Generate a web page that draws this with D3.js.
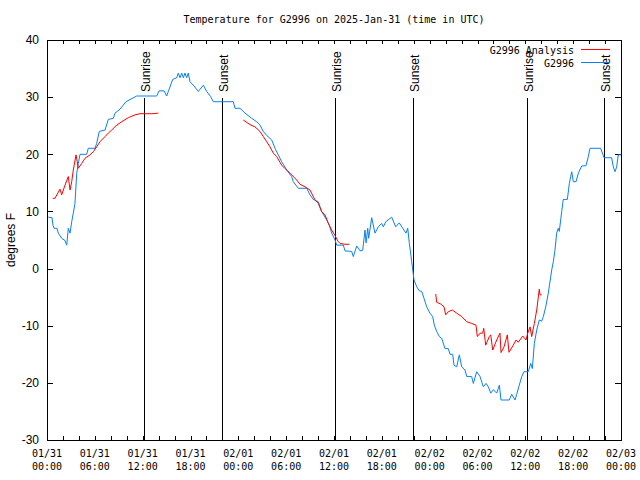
<!DOCTYPE html>
<html><head><meta charset="utf-8">
<script src="https://cdn.jsdelivr.net/npm/d3@7/dist/d3.min.js"></script>
<style>body{margin:0;background:#fff}svg{display:block}</style>
</head><body>
<svg id="c" width="640" height="480"></svg>
<script>
// ---- data (hours since 2025-01-31 00:00 UTC, temperature in degrees F) ----
const titleText = "Temperature for G2996 on 2025-Jan-31 (time in UTC)";
const yLabel = "degrees F";
const seriesNames = ["G2996 Analysis", "G2996"];

const obsHours = [0.16,0.63,0.75,0.88,1.25,1.42,1.84,2.26,2.47,2.67,2.89,3.10,3.30,3.51,3.73,3.93,4.14,4.98,5.18,6.02,6.23,6.56,7.28,7.69,8.32,8.53,9.16,9.91,11.25,13.76,14.05,14.68,15.01,15.22,15.77,16.27,16.47,16.68,16.90,17.10,17.31,17.52,17.72,17.94,18.44,18.98,19.61,20.03,20.53,20.86,23.37,23.58,24.21,24.84,25.68,26.30,26.72,27.13,27.56,28.19,28.60,29.01,29.44,30.07,30.69,30.90,31.52,32.58,32.99,33.40,34.03,34.46,35.09,35.41,35.71,36.13,36.34,37.17,37.38,38.22,38.42,38.85,39.26,39.60,39.89,40.02,40.23,40.35,40.73,41.14,41.56,41.98,42.19,42.49,43.24,43.74,44.19,44.62,45.03,45.25,45.45,45.75,46.04,46.38,46.70,47.00,47.29,47.63,48.04,48.38,48.58,48.88,49.21,49.51,49.92,50.34,50.55,50.89,51.05,51.39,51.72,52.02,52.43,52.65,53.27,53.48,53.90,54.32,54.73,55.07,55.36,55.66,55.98,56.41,56.74,56.95,57.99,58.29,58.71,58.92,59.24,59.55,59.83,60.37,60.68,60.88,61.13,61.43,61.75,62.05,62.26,62.56,62.88,63.31,63.51,63.72,63.93,64.13,64.26,64.56,64.76,65.27,65.52,65.82,66.02,66.36,66.65,67.07,67.61,67.90,68.11,69.45,69.87,70.83,71.03,71.25,71.46,71.66,72.0];
const obsTemps = [9.0,8.9,7.6,7.05,7.05,6.2,5.3,4.9,4.1,7.05,6.2,8.2,9.7,11.4,16.7,18.4,20.0,20.0,21.05,21.05,21.9,24.0,24.25,26.1,26.3,27.2,27.9,29.2,30.2,30.2,31.1,31.1,30.2,31.0,33.1,33.4,34.2,33.4,34.2,33.4,34.2,33.4,34.2,32.7,31.95,31.0,32.1,31.0,30.1,29.2,29.2,28.05,28.05,27.2,26.3,25.7,25.1,24.0,23.3,22.5,21.05,19.9,18.7,17.25,16.1,15.2,14.05,14.05,12.9,12.1,11.7,9.95,8.5,7.6,6.2,5.0,4.1,4.1,3.1,3.0,2.1,3.95,3.1,3.2,6.75,4.5,7.05,5.3,8.9,6.2,7.3,7.9,7.3,8.2,9.0,7.3,8.0,7.05,6.2,7.05,4.4,1.2,-2.0,-3.2,-3.9,-4.0,-5.2,-6.7,-7.8,-8.4,-9.9,-11.0,-11.9,-12.2,-14.0,-14.0,-15.0,-15.0,-16.9,-17.2,-15.1,-17.2,-17.75,-18.9,-18.9,-20.1,-18.05,-18.9,-20.7,-20.1,-20.7,-21.8,-21.2,-21.8,-20.4,-23.0,-23.0,-22.0,-23.0,-22.0,-20.4,-18.9,-18.05,-18.05,-16.6,-17.5,-13.1,-10.75,-9.0,-9.2,-8.4,-6.7,-4.3,-0.25,1.2,3.25,6.2,7.05,6.5,9.95,12.1,12.1,14.9,16.95,15.2,15.2,16.7,17.95,18.0,19.6,21.05,21.05,19.4,19.4,17.8,16.95,17.8,19.9,19.9];

// null marks a gap in the analysis series
const anaHours = [0.72,1.0,1.63,1.84,2.26,2.67,2.89,3.10,3.30,3.64,3.93,4.35,4.77,5.39,5.81,6.23,6.65,7.28,7.69,8.12,8.66,9.37,10.20,11.04,11.67,13.13,13.96,null,24.62,25.46,26.09,26.72,27.13,27.56,27.97,28.39,28.81,29.44,29.85,30.48,31.32,31.74,32.36,32.99,33.62,34.03,34.46,34.87,35.29,35.71,36.13,36.54,36.75,37.38,37.92,null,48.76,48.88,49.39,49.80,50.01,50.34,50.84,51.39,52.02,52.65,53.27,53.81,53.98,54.32,54.65,54.78,55.03,55.48,55.66,55.91,56.41,56.82,56.95,57.33,57.74,57.95,58.49,58.83,59.12,59.67,60.09,60.30,60.59,60.80,61.13,61.43,61.75,61.84,62.05];
const anaTemps = [12.3,12.3,13.9,12.9,14.6,16.1,13.75,15.2,17.25,19.9,17.55,18.4,19.3,19.9,20.45,21.3,22.2,23.1,23.7,24.25,25.0,25.7,26.4,26.9,27.1,27.1,27.2,null,26.0,25.2,24.8,24.0,23.1,22.2,21.3,20.2,19.6,18.1,17.5,16.7,15.5,14.75,14.3,13.75,12.0,11.4,9.95,9.4,7.9,6.75,5.75,4.7,4.4,4.25,4.25,null,-4.45,-5.9,-6.2,-6.7,-8.1,-7.55,-7.25,-7.8,-8.4,-9.3,-9.6,-9.9,-11.9,-11.3,-11.3,-10.45,-13.4,-11.9,-11.6,-14.25,-12.5,-11.3,-14.7,-13.7,-11.6,-14.65,-13.4,-12.5,-12.9,-11.8,-12.5,-11.3,-10.2,-11.9,-9.6,-7.25,-3.6,-4.6,-4.6];

const sunLabels = ["Sunrise","Sunset","Sunrise","Sunset","Sunrise","Sunset"];
const sunHours = [12.2,21.91,36.16,45.95,60.25,69.9];

const yTicks = [-30,-20,-10,0,10,20,30,40];
const xLabelHours = [0,6,12,18,24,30,36,42,48,54,60,66,72];

// ---- drawing ----
const start = Date.UTC(2025,0,31);
const toDate = h => new Date(start + h*3600e3);
const L = 47, R = 621, T = 40, B = 440;
const svg = d3.select("#c");
const mono = "'DejaVu Sans Mono', monospace";
const sans = "'Liberation Sans', Arial, sans-serif";

const x = d3.scaleUtc().domain([toDate(0), toDate(72)]).range([L, R]);
const y = d3.scaleLinear().domain([-30, 40]).range([B, T]);

const tick2h = d3.range(0, 73, 2).map(toDate);

// axes with inward ticks
const ax = [
  svg.append("g").attr("transform", `translate(0,${B})`).call(d3.axisBottom(x).tickValues(tick2h).tickSize(-4).tickFormat("")),
  svg.append("g").attr("transform", `translate(0,${T})`).call(d3.axisTop(x).tickValues(tick2h).tickSize(-4).tickFormat("")),
  svg.append("g").attr("transform", `translate(${L},0)`).call(d3.axisLeft(y).tickValues(yTicks).tickSize(-6).tickPadding(8).tickFormat(d3.format("d"))),
  svg.append("g").attr("transform", `translate(${R},0)`).call(d3.axisRight(y).tickValues(yTicks).tickSize(-6).tickFormat(""))
];
ax.forEach(g => {
  g.selectAll(".domain").remove();
  g.selectAll("line").attr("stroke", "#000").attr("shape-rendering", "crispEdges");
  g.selectAll("text").attr("font-family", sans).attr("font-size", 12).attr("fill", "#000");
});
ax[2].selectAll("text").text(d => d < 0 ? "-" + Math.abs(d) : d);

// frame
svg.append("rect").attr("x", L).attr("y", T).attr("width", R - L).attr("height", B - T)
  .attr("fill", "none").attr("stroke", "#000").attr("shape-rendering", "crispEdges");

// x labels (two lines)
const fmtD = d3.utcFormat("%m/%d"), fmtT = d3.utcFormat("%H:%M");
const xl = svg.append("g").attr("font-family", mono).attr("font-size", 10).attr("text-anchor", "middle");
xLabelHours.forEach(h => {
  const d = toDate(h);
  const t = xl.append("text").attr("x", x(d)).attr("y", 457);
  t.append("tspan").attr("x", x(d)).text(fmtD(d));
  t.append("tspan").attr("x", x(d)).attr("dy", 13).text(fmtT(d));
});

// title and y label
svg.append("text").attr("x", (L + R) / 2).attr("y", 23).attr("text-anchor", "middle")
  .attr("font-family", mono).attr("font-size", 10).text(titleText);
svg.append("text").attr("transform", `translate(15,${(T + B) / 2}) rotate(-90)`)
  .attr("text-anchor", "middle").attr("font-family", sans).attr("font-size", 12).text(yLabel);

// sunrise / sunset
const sg = svg.append("g");
sunHours.forEach((h, i) => {
  const px = Math.round(x(toDate(h))) + 0.5;
  sg.append("line").attr("x1", px).attr("x2", px).attr("y1", 98).attr("y2", B).attr("stroke", "#000");
  sg.append("text").attr("transform", `translate(${px + 5},92) rotate(-90)`)
    .attr("font-family", sans).attr("font-size", 12).text(sunLabels[i]);
});

// series
const line = d3.line().defined(d => d[0] != null && d[1] != null).x(d => x(toDate(d[0]))).y(d => y(d[1]));
const obs = obsHours.map((h, i) => [h, obsTemps[i]]);
const ana = anaHours.map((h, i) => [h, anaTemps[i]]);
const colors = ["#ff0000", "#0a80f0"];
svg.append("path").datum(obs).attr("d", line).attr("fill", "none").attr("stroke", colors[1]).attr("stroke-width", 1);
svg.append("path").datum(ana).attr("d", line).attr("fill", "none").attr("stroke", colors[0]).attr("stroke-width", 1);

// legend
const lg = svg.append("g").attr("font-family", mono).attr("font-size", 10);
seriesNames.forEach((n, i) => {
  const ly = 50 + i * 13;
  lg.append("text").attr("x", 574).attr("y", ly).attr("dy", "0.35em").attr("text-anchor", "end").text(n);
  lg.append("line").attr("x1", 581).attr("x2", 610).attr("y1", ly - 0.5).attr("y2", ly - 0.5)
    .attr("stroke", colors[i]).attr("shape-rendering", "crispEdges");
});
</script>
</body></html>
